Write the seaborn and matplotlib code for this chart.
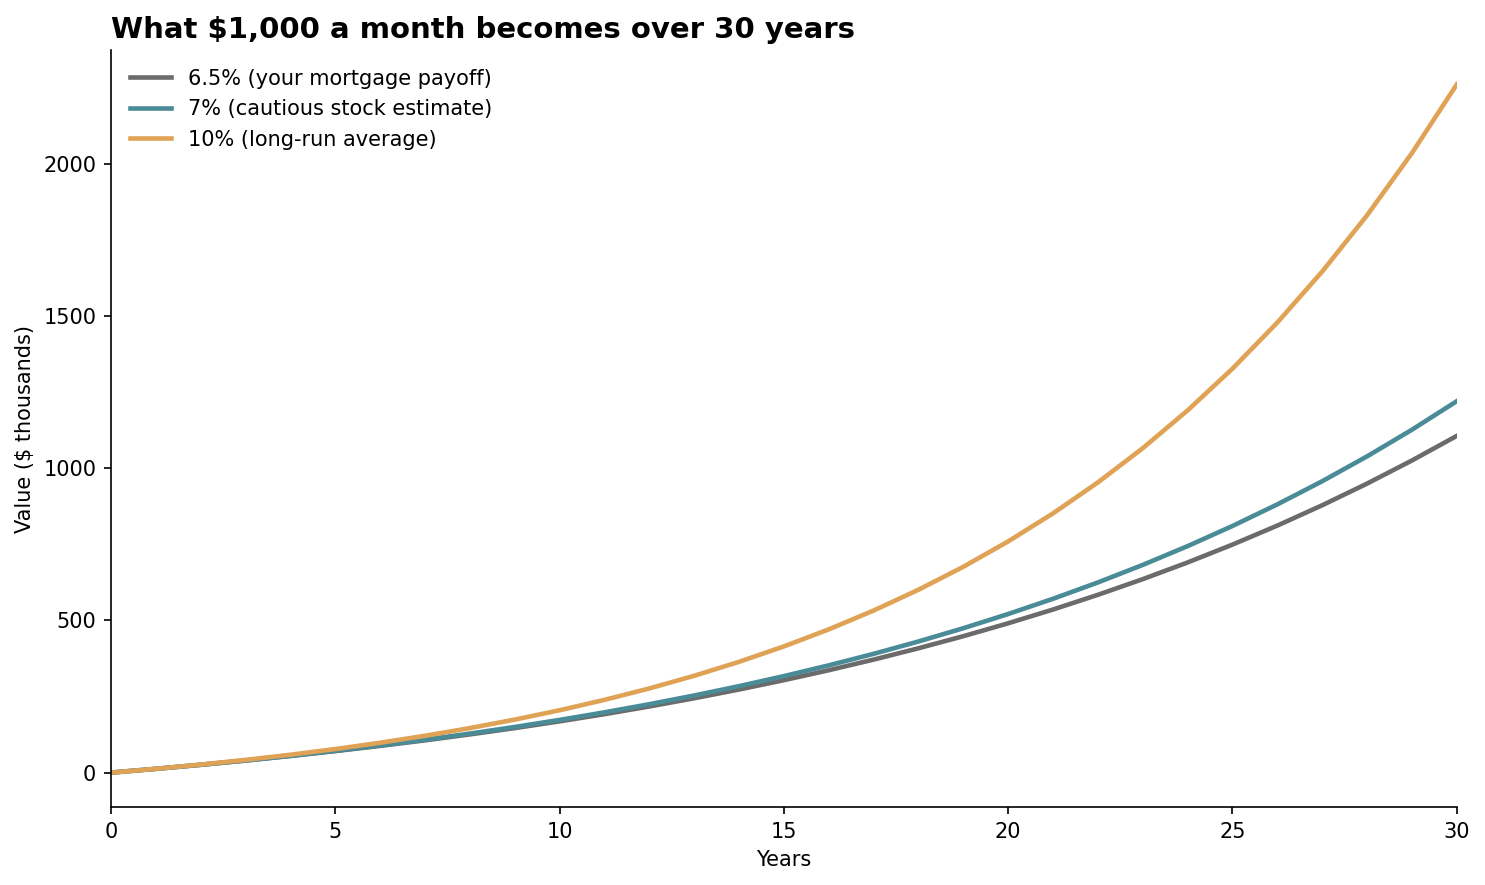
import matplotlib
matplotlib.use("Agg")
import matplotlib.pyplot as plt
import seaborn as sns
import pandas as pd

years = list(range(0, 31))
val_65 = [0, 12.4, 25.6, 39.6, 54.7, 70.7, 87.8, 106.0, 125.5, 146.2, 168.4,
          192.0, 217.3, 244.2, 272.9, 303.6, 336.3, 371.2, 408.4, 448.1, 490.5,
          535.7, 584.0, 635.4, 690.3, 748.9, 811.4, 878.1, 949.3, 1025.2, 1106.0]
val_7 = [0, 12.4, 25.7, 39.9, 55.2, 71.6, 89.2, 108.0, 128.2, 149.9, 173.1,
         198.0, 224.7, 253.3, 284.0, 317.0, 352.3, 390.1, 430.7, 474.3, 520.9,
         571.0, 624.6, 682.2, 743.9, 810.1, 881.0, 957.1, 1038.7, 1126.2, 1220.0]
val_10 = [0, 12.6, 26.4, 41.8, 58.7, 77.4, 98.1, 121.0, 146.2, 174.1, 204.8,
          238.9, 276.4, 318.0, 363.8, 414.5, 470.4, 532.3, 600.6, 676.0, 759.4,
          851.5, 953.2, 1065.5, 1189.7, 1326.8, 1478.3, 1645.7, 1830.5, 2034.8, 2260.4]
labels = ["6.5% (your mortgage payoff)", "7% (cautious stock estimate)", "10% (long-run average)"]
colors = ["#6b6b6b", "#4a8b98", "#e0a254"]

df = pd.concat([
    pd.DataFrame({"Years": years, "Value": v, "Rate": lab})
    for v, lab in zip([val_65, val_7, val_10], labels)
])

plt.rcParams["font.family"] = ["DejaVu Sans"]

fig, ax = plt.subplots(figsize=(9.9, 5.9), dpi=150)
sns.lineplot(data=df, x="Years", y="Value", hue="Rate", palette=colors,
             hue_order=labels, linewidth=2.2, ax=ax)
ax.set_xlim(0, 30)
ax.set_xlabel("Years", fontsize=10)
ax.set_ylabel("Value ($ thousands)", fontsize=10)
ax.tick_params(labelsize=10)
ax.set_title("What \\$1,000 a month becomes over 30 years", loc="left",
             fontsize=14, fontweight="bold")
ax.legend(frameon=False, loc="upper left", fontsize=10)
sns.despine(ax=ax)
fig.subplots_adjust(left=0.0747, right=0.981, top=0.9435, bottom=0.0881)
fig.savefig("out.png", dpi=150)
